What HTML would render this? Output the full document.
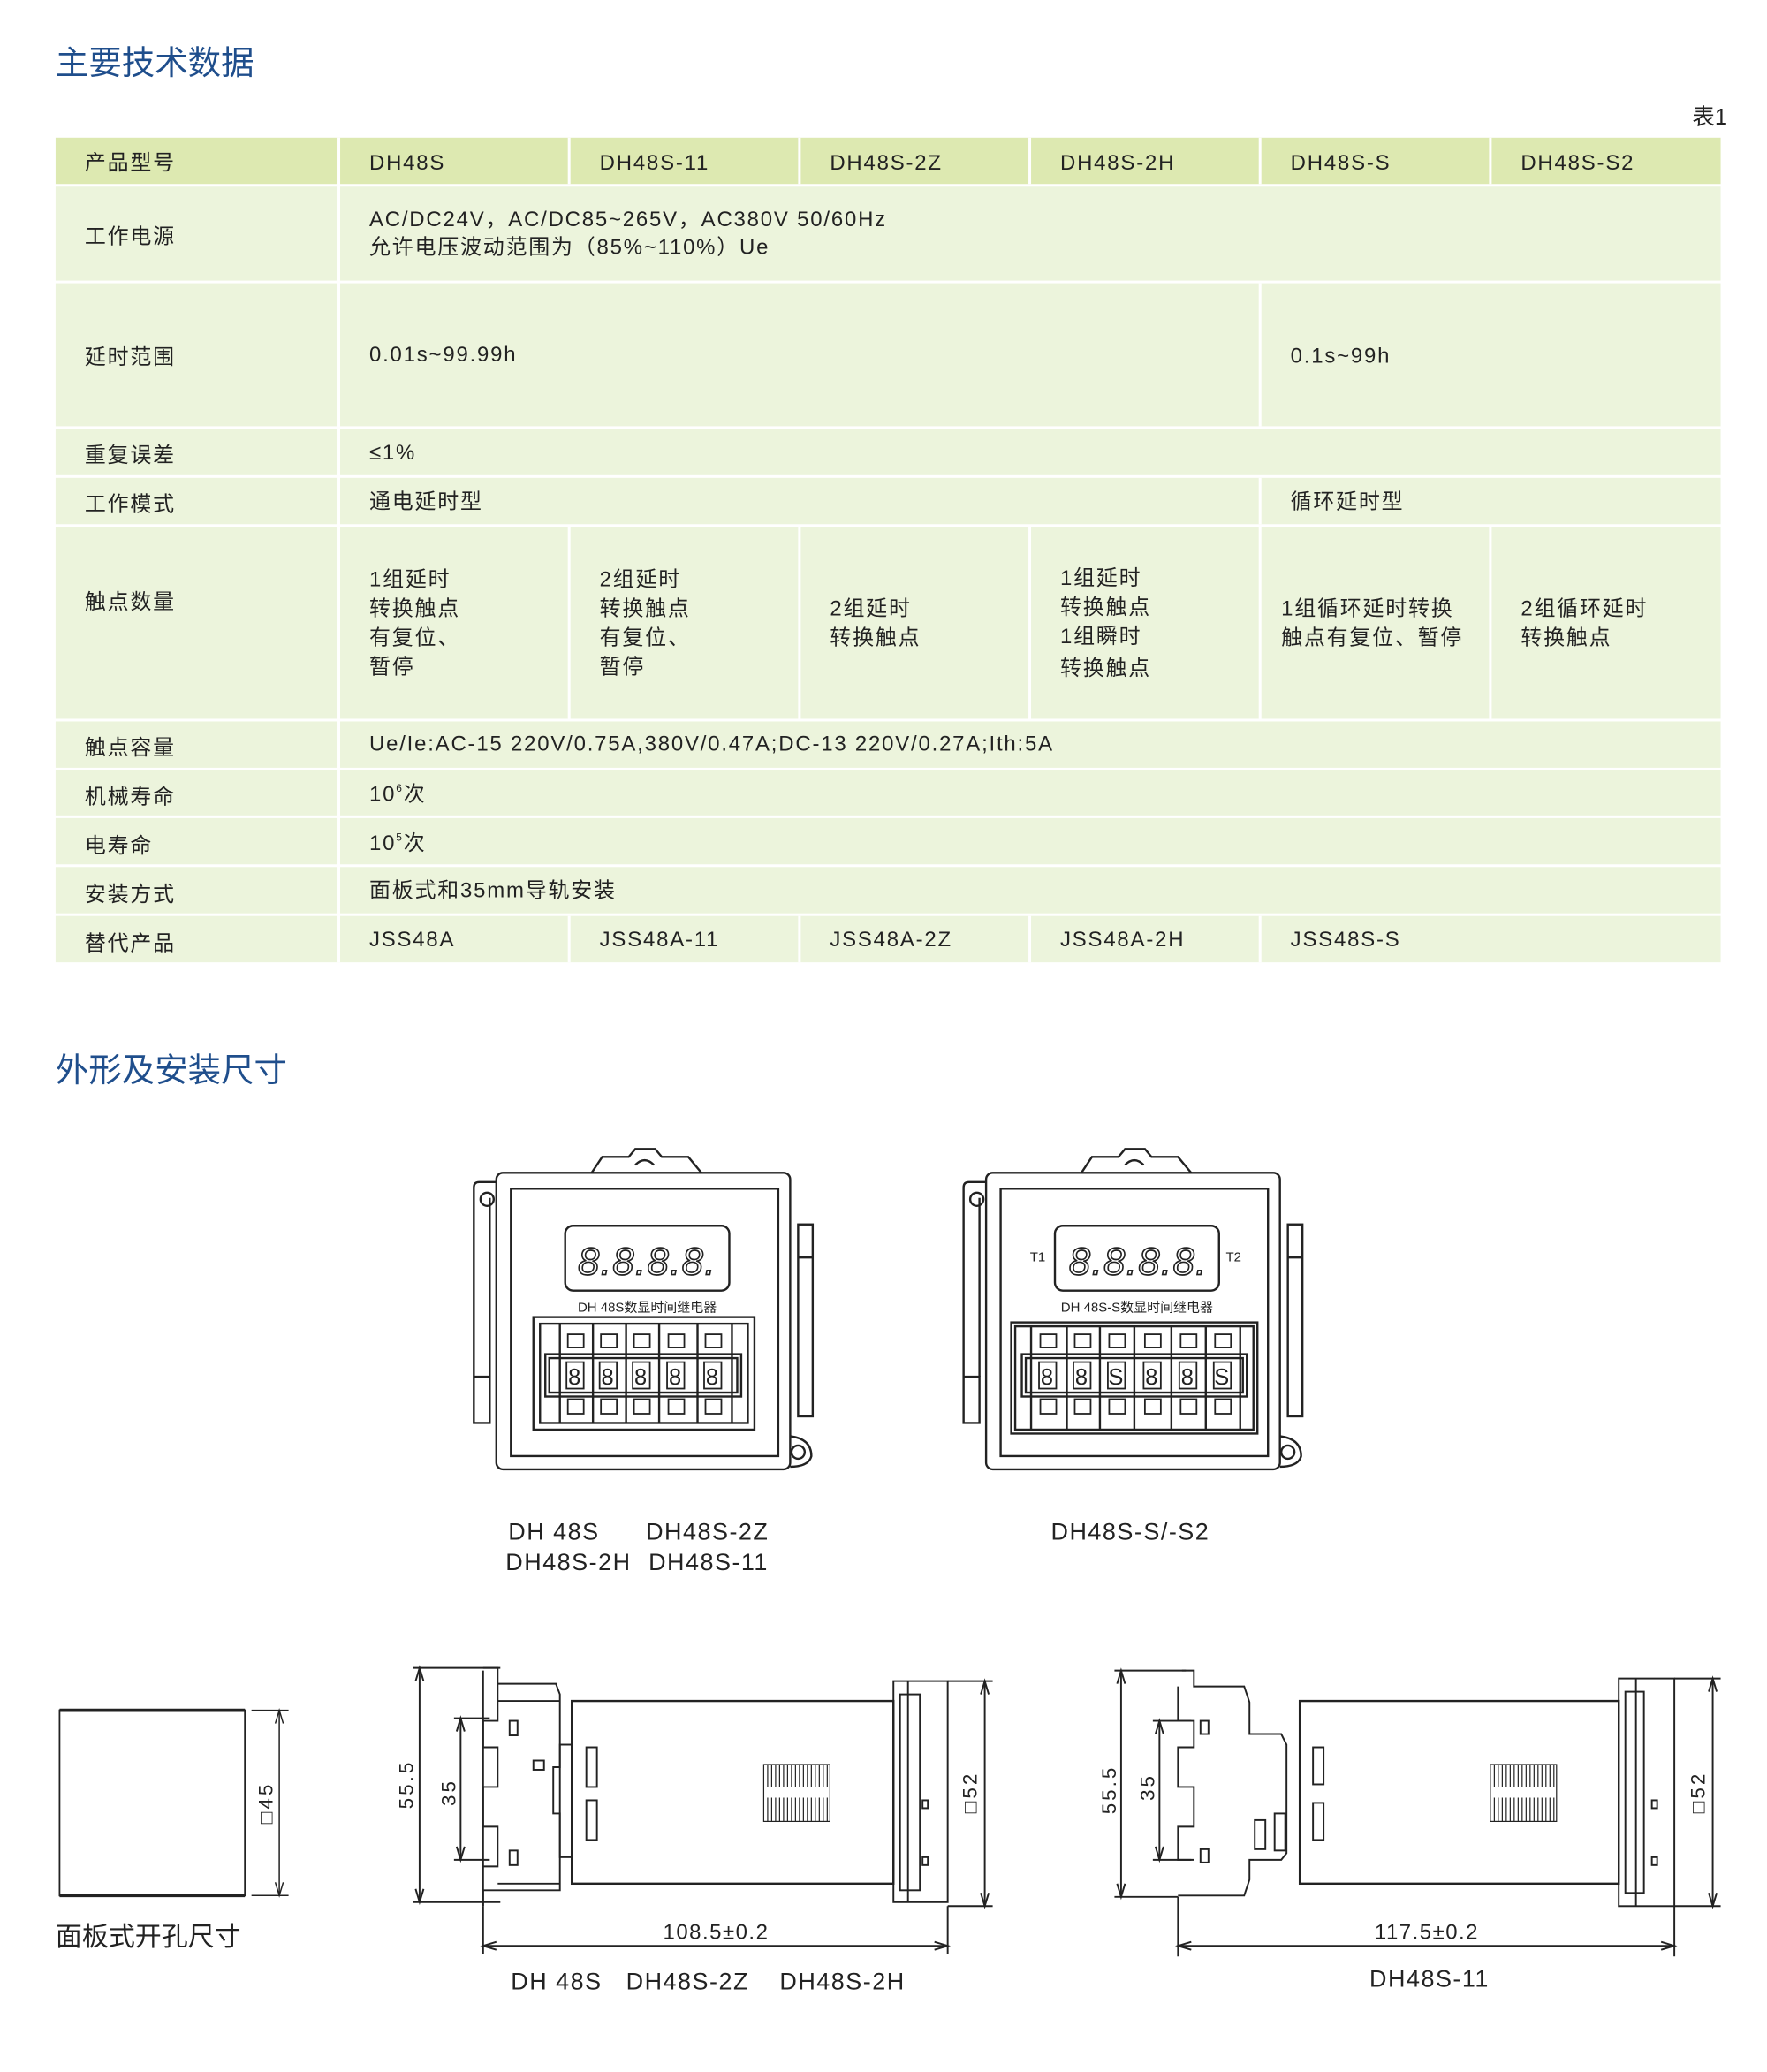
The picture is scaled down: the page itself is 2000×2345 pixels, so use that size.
<!DOCTYPE html>
<html><head><meta charset="utf-8"><style>html,body{margin:0;padding:0;background:#fff}svg{display:block}</style></head><body>
<svg xmlns="http://www.w3.org/2000/svg" width="2000" height="2345" viewBox="0 0 1335 1565.3" font-family="Liberation Sans, Noto Sans CJK SC, sans-serif">
<rect width="1335" height="1566" fill="#fff"/>
<text x="42" y="56" font-size="25" fill="#1f4e8c">主要技术数据</text>
<text x="1305" y="94" font-size="17" fill="#222" text-anchor="end">表1</text>
<g fill="#ecf4dc">
<rect x="42" y="104" width="1258" height="35" fill="#dde9b1"/>
<rect x="42" y="141" width="1258" height="71"/>
<rect x="42" y="214" width="1258" height="108"/>
<rect x="42" y="324" width="1258" height="35"/>
<rect x="42" y="361" width="1258" height="35"/>
<rect x="42" y="398" width="1258" height="145"/>
<rect x="42" y="545" width="1258" height="35"/>
<rect x="42" y="582" width="1258" height="34"/>
<rect x="42" y="618" width="1258" height="35"/>
<rect x="42" y="655" width="1258" height="35"/>
<rect x="42" y="692" width="1258" height="35"/>
</g>
<g stroke="#fff" stroke-width="2">
<line x1="256" y1="104" x2="256" y2="727"/>
<line x1="430" y1="104" x2="430" y2="139"/><line x1="604" y1="104" x2="604" y2="139"/><line x1="778" y1="104" x2="778" y2="139"/><line x1="952" y1="104" x2="952" y2="139"/><line x1="1126" y1="104" x2="1126" y2="139"/>
<line x1="952" y1="214" x2="952" y2="322"/><line x1="952" y1="361" x2="952" y2="396"/>
<line x1="430" y1="398" x2="430" y2="543"/><line x1="604" y1="398" x2="604" y2="543"/><line x1="778" y1="398" x2="778" y2="543"/><line x1="952" y1="398" x2="952" y2="543"/><line x1="1126" y1="398" x2="1126" y2="543"/>
<line x1="430" y1="692" x2="430" y2="727"/><line x1="604" y1="692" x2="604" y2="727"/><line x1="778" y1="692" x2="778" y2="727"/><line x1="952" y1="692" x2="952" y2="727"/>
</g>
<g font-size="16" fill="#222" letter-spacing="1.2">
<text x="64" y="128">产品型号</text><text x="279" y="128">DH48S</text><text x="453" y="128">DH48S-11</text><text x="627" y="128">DH48S-2Z</text><text x="801" y="128">DH48S-2H</text><text x="975" y="128">DH48S-S</text><text x="1149" y="128">DH48S-S2</text>
<text x="64" y="184">工作电源</text><text x="279" y="171">AC/DC24V，AC/DC85~265V，AC380V 50/60Hz</text><text x="279" y="192">允许电压波动范围为（85%~110%）Ue</text>
<text x="64" y="275">延时范围</text><text x="279" y="273">0.01s~99.99h</text><text x="975" y="274">0.1s~99h</text>
<text x="64" y="349">重复误差</text><text x="279" y="347">≤1%</text>
<text x="64" y="386">工作模式</text><text x="279" y="384">通电延时型</text><text x="975" y="384">循环延时型</text>
<text x="64" y="460">触点数量</text>
<text x="279" y="443">1组延时</text><text x="279" y="465">转换触点</text><text x="279" y="487">有复位、</text><text x="279" y="509">暂停</text>
<text x="453" y="443">2组延时</text><text x="453" y="465">转换触点</text><text x="453" y="487">有复位、</text><text x="453" y="509">暂停</text>
<text x="627" y="465">2组延时</text><text x="627" y="487">转换触点</text>
<text x="801" y="442">1组延时</text><text x="801" y="464">转换触点</text><text x="801" y="486">1组瞬时</text><text x="801" y="510">转换触点</text>
<text x="968" y="465">1组循环延时转换</text><text x="968" y="487">触点有复位、暂停</text>
<text x="1149" y="465">2组循环延时</text><text x="1149" y="487">转换触点</text>
<text x="64" y="570">触点容量</text><text x="279" y="567">Ue/Ie:AC-15 220V/0.75A,380V/0.47A;DC-13 220V/0.27A;Ith:5A</text>
<text x="64" y="607">机械寿命</text><text x="279" y="605">10<tspan font-size="8" dy="-7">6</tspan><tspan dy="7">次</tspan></text>
<text x="64" y="644">电寿命</text><text x="279" y="642">10<tspan font-size="8" dy="-7">5</tspan><tspan dy="7">次</tspan></text>
<text x="64" y="681">安装方式</text><text x="279" y="678">面板式和35mm导轨安装</text>
<text x="64" y="718">替代产品</text><text x="279" y="715">JSS48A</text><text x="453" y="715">JSS48A-11</text><text x="627" y="715">JSS48A-2Z</text><text x="801" y="715">JSS48A-2H</text><text x="975" y="715">JSS48S-S</text>
</g>
<text x="42" y="817" font-size="25" fill="#1f4e8c">外形及安装尺寸</text>

<g fill="none" stroke="#222" stroke-width="1.6">
<path d="M447 886 L455 874 L475 874 L480 868 L495 868 L500 874 L520 874 L530 886"/>
<path d="M480 880 Q487 873 494 880"/>
<rect x="375" y="886" width="222" height="224" rx="5"/>
<rect x="386" y="898" width="202" height="202"/>
<path d="M375 893 L362 893 Q358 893 358 897 L358 1075 L370 1075 L370 1040 L358 1040"/><circle cx="368" cy="906" r="5"/>
<line x1="370" y1="905" x2="370" y2="1040"/>
<path d="M597 1085 Q613 1087 613 1100 Q611 1108 597 1108"/><circle cx="603" cy="1097" r="5"/>
<rect x="603" y="925" width="11" height="145"/><line x1="603" y1="950" x2="614" y2="950"/>
<rect x="427" y="926" width="124" height="49" rx="6"/>
<rect x="403" y="995" width="167" height="85"/><rect x="408" y="1000" width="157" height="75"/>
<rect x="412" y="1023" width="148" height="32"/><rect x="415" y="1026" width="142" height="26"/>
<line x1="423" y1="1000" x2="423" y2="1075"/><line x1="448" y1="1000" x2="448" y2="1075"/><line x1="473" y1="1000" x2="473" y2="1075"/><line x1="498" y1="1000" x2="498" y2="1075"/><line x1="527" y1="1000" x2="527" y2="1075"/><line x1="553" y1="1000" x2="553" y2="1075"/>
</g>
<text x="489" y="963" font-size="29" font-style="italic" text-anchor="middle" fill="#fff" stroke="#222" stroke-width="1.1" letter-spacing="1">8.8.8.8.</text>
<text x="489" y="991" font-size="10" text-anchor="middle" fill="#222">DH 48S数显时间继电器</text>
<g fill="none" stroke="#222" stroke-width="1.2">
<rect x="429" y="1008" width="12" height="10"/><rect x="454" y="1008" width="12" height="10"/><rect x="479" y="1008" width="12" height="10"/><rect x="505" y="1008" width="12" height="10"/><rect x="533" y="1008" width="12" height="10"/>
<rect x="428" y="1029" width="13" height="20"/><rect x="453" y="1029" width="13" height="20"/><rect x="478" y="1029" width="13" height="20"/><rect x="504" y="1029" width="13" height="20"/><rect x="532" y="1029" width="13" height="20"/>
<rect x="429" y="1057" width="12" height="11"/><rect x="454" y="1057" width="12" height="11"/><rect x="479" y="1057" width="12" height="11"/><rect x="505" y="1057" width="12" height="11"/><rect x="533" y="1057" width="12" height="11"/>
</g>
<g font-size="17" fill="#222" text-anchor="middle"><text x="434" y="1046">8</text><text x="459" y="1046">8</text><text x="484" y="1046">8</text><text x="510" y="1046">8</text><text x="538" y="1046">8</text></g>

<g fill="none" stroke="#222" stroke-width="1.6">
<path d="M817 886 L825 874 L845 874 L850 868 L865 868 L870 874 L890 874 L900 886"/>
<path d="M850 880 Q857 873 864 880"/>
<rect x="745" y="886" width="222" height="224" rx="5"/>
<rect x="756" y="898" width="202" height="202"/>
<path d="M745 893 L732 893 Q728 893 728 897 L728 1075 L740 1075 L740 1040 L728 1040"/><circle cx="738" cy="906" r="5"/>
<line x1="740" y1="905" x2="740" y2="1040"/>
<path d="M967 1085 Q983 1087 983 1100 Q981 1108 967 1108"/><circle cx="973" cy="1097" r="5"/>
<rect x="973" y="925" width="11" height="145"/><line x1="973" y1="950" x2="984" y2="950"/>
<rect x="797" y="926" width="124" height="49" rx="6"/>
<rect x="764" y="999" width="186" height="84"/><rect x="767" y="1002" width="180" height="78"/>
<rect x="772" y="1023" width="170" height="32"/><rect x="775" y="1026" width="164" height="26"/>
<line x1="779" y1="1002" x2="779" y2="1080"/><line x1="806" y1="1002" x2="806" y2="1080"/><line x1="831" y1="1002" x2="831" y2="1080"/><line x1="857" y1="1002" x2="857" y2="1080"/><line x1="885" y1="1002" x2="885" y2="1080"/><line x1="911" y1="1002" x2="911" y2="1080"/><line x1="937" y1="1002" x2="937" y2="1080"/>
</g>
<text x="860" y="963" font-size="29" font-style="italic" text-anchor="middle" fill="#fff" stroke="#222" stroke-width="1.1" letter-spacing="1">8.8.8.8.</text>
<text x="784" y="953" font-size="10" text-anchor="middle" fill="#222">T1</text><text x="932" y="953" font-size="10" text-anchor="middle" fill="#222">T2</text>
<text x="859" y="991" font-size="10" text-anchor="middle" fill="#222">DH 48S-S数显时间继电器</text>
<g fill="none" stroke="#222" stroke-width="1.2">
<rect x="786" y="1008" width="12" height="10"/><rect x="812" y="1008" width="12" height="10"/><rect x="838" y="1008" width="12" height="10"/><rect x="865" y="1008" width="12" height="10"/><rect x="892" y="1008" width="12" height="10"/><rect x="918" y="1008" width="12" height="10"/>
<rect x="785" y="1029" width="13" height="20"/><rect x="811" y="1029" width="13" height="20"/><rect x="837" y="1029" width="13" height="20"/><rect x="864" y="1029" width="13" height="20"/><rect x="891" y="1029" width="13" height="20"/><rect x="917" y="1029" width="13" height="20"/>
<rect x="786" y="1057" width="12" height="11"/><rect x="812" y="1057" width="12" height="11"/><rect x="838" y="1057" width="12" height="11"/><rect x="865" y="1057" width="12" height="11"/><rect x="892" y="1057" width="12" height="11"/><rect x="918" y="1057" width="12" height="11"/>
</g>
<g font-size="17" fill="#222" text-anchor="middle"><text x="791" y="1046">8</text><text x="817" y="1046">8</text><text x="843" y="1046">S</text><text x="870" y="1046">8</text><text x="897" y="1046">8</text><text x="923" y="1046">S</text></g>

<g font-size="18" fill="#222" letter-spacing="1">
<text x="384" y="1163">DH 48S</text><text x="488" y="1163">DH48S-2Z</text>
<text x="382" y="1186">DH48S-2H</text><text x="490" y="1186">DH48S-11</text>
<text x="854" y="1163" text-anchor="middle">DH48S-S/-S2</text>
</g>

<g stroke="#222" fill="none">
<rect x="45" y="1292" width="140" height="140" stroke-width="1.2"/>
<line x1="45" y1="1292" x2="185" y2="1292" stroke-width="2.5"/><line x1="45" y1="1432" x2="185" y2="1432" stroke-width="2.5"/>
<line x1="190" y1="1292" x2="218" y2="1292"/><line x1="190" y1="1432" x2="218" y2="1432"/>
<line x1="211" y1="1292" x2="211" y2="1432"/>
<path d="M208 1302 L211 1292 L214 1302 M208 1422 L211 1432 L214 1422"/>
</g>
<text transform="translate(206 1362) rotate(-90)" font-size="15" text-anchor="middle" fill="#222" letter-spacing="2">□45</text>
<text x="42" y="1470" font-size="20" fill="#222">面板式开孔尺寸</text>

<g stroke="#222" fill="none" stroke-width="1.3">
<line x1="312" y1="1260" x2="378" y2="1260"/><line x1="312" y1="1437" x2="378" y2="1437"/><line x1="317" y1="1260" x2="317" y2="1437"/>
<path d="M314 1270 L317 1260 L320 1270 M314 1427 L317 1437 L320 1427"/>
<line x1="343" y1="1298" x2="370" y2="1298"/><line x1="343" y1="1405" x2="370" y2="1405"/><line x1="348" y1="1298" x2="348" y2="1405"/>
<path d="M345 1308 L348 1298 L351 1308 M345 1395 L348 1405 L351 1395"/>
<path d="M365 1260 L376 1260 L376 1272 L420 1272 L423 1280 L423 1335 L418 1335 L418 1370 L423 1370 L423 1428 L365 1428 L365 1440 M376 1272 L376 1300 L365 1300 L365 1320 L376 1320 L376 1350 L365 1350 L365 1380 L376 1380 L376 1410 L365 1410"/>
<line x1="365" y1="1262" x2="365" y2="1440"/>
<line x1="376" y1="1285" x2="423" y2="1285"/><line x1="376" y1="1423" x2="423" y2="1423"/>
<rect x="385" y="1300" width="6" height="11"/><rect x="385" y="1398" width="6" height="11"/><rect x="403" y="1330" width="8" height="7"/>
<rect x="423" y="1318" width="9" height="85"/>
<rect x="443" y="1320" width="8" height="30"/><rect x="443" y="1360" width="8" height="30"/>
<rect x="432" y="1285" width="243" height="138" stroke-width="1.6"/>
<rect x="675" y="1270" width="41" height="167"/><line x1="686" y1="1270" x2="686" y2="1437"/><rect x="680" y="1280" width="15" height="148"/>
<rect x="697" y="1360" width="4" height="6"/><rect x="697" y="1403" width="4" height="6"/>
<line x1="716" y1="1270" x2="750" y2="1270"/><line x1="716" y1="1440" x2="750" y2="1440"/><line x1="744" y1="1270" x2="744" y2="1440"/>
<path d="M741 1280 L744 1270 L747 1280 M741 1430 L744 1440 L747 1430"/>
<line x1="365" y1="1440" x2="365" y2="1476"/><line x1="716" y1="1440" x2="716" y2="1476"/>
<line x1="365" y1="1470" x2="716" y2="1470"/>
<path d="M375 1467 L365 1470 L375 1473 M706 1467 L716 1470 L706 1473"/>
</g>
<g stroke="#222" stroke-width="0.8">
<rect x="577" y="1333" width="50" height="43" fill="none"/>
<path d="M580 1333V1350M583 1333V1350M586 1333V1350M589 1333V1350M592 1333V1350M595 1333V1350M598 1333V1350M601 1333V1350M604 1333V1350M607 1333V1350M610 1333V1350M613 1333V1350M616 1333V1350M619 1333V1350M622 1333V1350M625 1333V1350M580 1358V1376M583 1358V1376M586 1358V1376M589 1358V1376M592 1358V1376M595 1358V1376M598 1358V1376M601 1358V1376M604 1358V1376M607 1358V1376M610 1358V1376M613 1358V1376M616 1358V1376M619 1358V1376M622 1358V1376M625 1358V1376"/>
</g>
<g font-size="15" fill="#222" text-anchor="middle">
<text transform="translate(312 1348) rotate(-90)" letter-spacing="2">55.5</text>
<text transform="translate(344 1354) rotate(-90)" letter-spacing="2">35</text>
<text transform="translate(738 1354) rotate(-90)" letter-spacing="2">□52</text>
<text x="541" y="1465" font-size="16" letter-spacing="1">108.5±0.2</text>
<text x="386" y="1503" font-size="18" text-anchor="start" letter-spacing="1">DH 48S</text>
<text x="473" y="1503" font-size="18" text-anchor="start" letter-spacing="1">DH48S-2Z</text>
<text x="589" y="1503" font-size="18" text-anchor="start" letter-spacing="1">DH48S-2H</text>
</g>

<g stroke="#222" fill="none" stroke-width="1.3">
<line x1="842" y1="1262" x2="896" y2="1262"/><line x1="842" y1="1433" x2="890" y2="1433"/><line x1="847" y1="1262" x2="847" y2="1433"/>
<path d="M844 1272 L847 1262 L850 1272 M844 1423 L847 1433 L850 1423"/>
<line x1="871" y1="1300" x2="900" y2="1300"/><line x1="871" y1="1405" x2="900" y2="1405"/><line x1="876" y1="1300" x2="876" y2="1405"/>
<path d="M873 1310 L876 1300 L879 1310 M873 1395 L876 1405 L879 1395"/>
<path d="M893 1262 L902 1262 L902 1274 L940 1274 L944 1286 L944 1310 L968 1310 L972 1318 L972 1400 L968 1405 L944 1405 L944 1420 L940 1432 L890 1432"/>
<path d="M890 1274 L890 1300 L902 1300 L902 1320 L890 1320 L890 1350 L902 1350 L902 1380 L890 1380 L890 1405 L902 1405"/>
<rect x="907" y="1300" width="6" height="10"/><rect x="907" y="1397" width="6" height="10"/>
<rect x="948" y="1375" width="8" height="22"/><rect x="963" y="1370" width="8" height="28"/>
<rect x="992" y="1320" width="8" height="28"/><rect x="992" y="1362" width="8" height="28"/>
<rect x="982" y="1285" width="241" height="138" stroke-width="1.6"/>
<rect x="1223" y="1268" width="42" height="172"/><line x1="1236" y1="1268" x2="1236" y2="1440"/><rect x="1228" y="1278" width="14" height="152"/>
<rect x="1248" y="1360" width="4" height="6"/><rect x="1248" y="1403" width="4" height="6"/>
<line x1="1265" y1="1268" x2="1300" y2="1268"/><line x1="1265" y1="1440" x2="1300" y2="1440"/><line x1="1294" y1="1268" x2="1294" y2="1440"/>
<path d="M1291 1278 L1294 1268 L1297 1278 M1291 1430 L1294 1440 L1297 1430"/>
<line x1="890" y1="1433" x2="890" y2="1478"/><line x1="1265" y1="1440" x2="1265" y2="1478"/>
<line x1="890" y1="1470" x2="1265" y2="1470"/>
<path d="M900 1467 L890 1470 L900 1473 M1255 1467 L1265 1470 L1255 1473"/>
</g>
<g stroke="#222" stroke-width="0.8">
<rect x="1126" y="1333" width="50" height="43" fill="none"/>
<path d="M1129 1333V1350M1132 1333V1350M1135 1333V1350M1138 1333V1350M1141 1333V1350M1144 1333V1350M1147 1333V1350M1150 1333V1350M1153 1333V1350M1156 1333V1350M1159 1333V1350M1162 1333V1350M1165 1333V1350M1168 1333V1350M1171 1333V1350M1174 1333V1350M1129 1358V1376M1132 1358V1376M1135 1358V1376M1138 1358V1376M1141 1358V1376M1144 1358V1376M1147 1358V1376M1150 1358V1376M1153 1358V1376M1156 1358V1376M1159 1358V1376M1162 1358V1376M1165 1358V1376M1168 1358V1376M1171 1358V1376M1174 1358V1376"/>
</g>
<g font-size="15" fill="#222" text-anchor="middle">
<text transform="translate(843 1352) rotate(-90)" letter-spacing="2">55.5</text>
<text transform="translate(872 1350) rotate(-90)" letter-spacing="2">35</text>
<text transform="translate(1288 1354) rotate(-90)" letter-spacing="2">□52</text>
<text x="1078" y="1465" font-size="16" letter-spacing="1">117.5±0.2</text>
<text x="1080" y="1501" font-size="18" letter-spacing="1">DH48S-11</text>
</g>
</svg>
</body></html>
